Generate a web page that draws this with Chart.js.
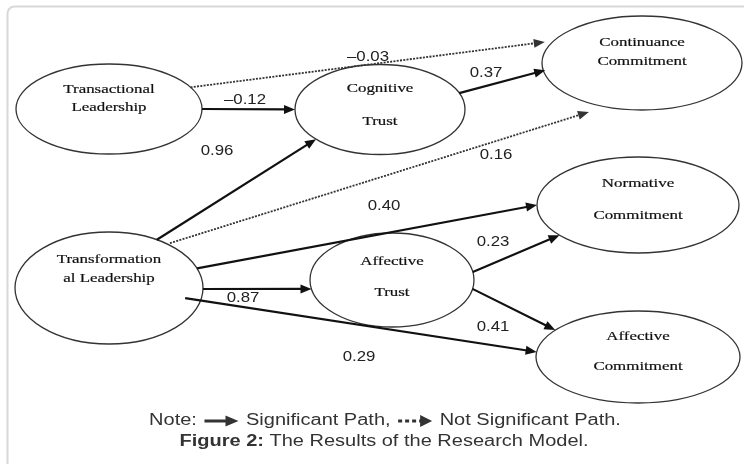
<!DOCTYPE html>
<html>
<head>
<meta charset="utf-8">
<script src="https://cdn.jsdelivr.net/npm/chart.js@4.4.1/dist/chart.umd.min.js"></script>
<style>
html,body{margin:0;padding:0;background:#fff;}
#wrap{width:744px;height:464px;position:relative;}
</style>
</head>
<body>
<div id="wrap"><canvas id="pathChart"></canvas></div>
<script>
// constructs of the research model (two printed lines each)
const nodeNames = [
    ["Transactional", "Leadership"],
    ["Cognitive", "Trust"],
    ["Continuance", "Commitment"],
    ["Transformation", "al Leadership"],
    ["Affective", "Trust"],
    ["Normative", "Commitment"],
    ["Affective", "Commitment"]
];

// structural paths: from -> to, coefficient, significant or not
const pathFrom = [0, 0, 3, 3, 1, 3, 3, 3, 4, 4];
const pathTo   = [2, 1, 1, 2, 2, 5, 4, 6, 5, 6];
const pathCoef = [-0.03, -0.12, 0.96, 0.16, 0.37, 0.40, 0.87, 0.29, 0.23, 0.41];
const pathSig  = [false, true, true, false, true, true, true, true, true, true];

// layout of the figure, in diagram units (x 0..744, y 0..464)
const LAYOUT = {
    nodes: [
        {x: 109, y: 109,   rx: 93,  ry: 45, t: [-19, -1]},
        {x: 380, y: 109.5, rx: 85,  ry: 45, t: [-20.5, 12.5]},
        {x: 642, y: 63,    rx: 100, ry: 47, t: [-20, -1]},
        {x: 109, y: 288,   rx: 94,  ry: 56, t: [-28, -9]},
        {x: 392, y: 280,   rx: 82,  ry: 47, t: [-18, 13]},
        {x: 638, y: 205,   rx: 101, ry: 48, t: [-21, 11]},
        {x: 638, y: 357,   rx: 102, ry: 46, t: [-20, 10]}
    ],
    // start angle, end angle (deg), start radius factor, end radius factor
    anchors: [
        [-28.8, -155.3, 1, 1.07],
        [0, 180, 1, 1],
        [-59.4, 138.8, 1, 1],
        [-51, 117, 1.03, 1.17],
        [-21.3, 171, 1, 0.98],
        [-20.5, 180, 1, 1],
        [1, 169, 1, 1],
        [12.5, -173.7, 0.83, 1],
        [-9.8, 141, 1, 1],
        [10.9, -144.2, 1, 1]
    ],
    labels: [[368, 57], [245, 100], [217, 151], [496, 155], [486, 73],
             [384, 206], [243, 298], [359, 357], [493, 242], [493, 327]],
    headLen: 11,
    headHalf: 4.5
};

const onEllipse = (n, deg, s) => {
    const a = deg * Math.PI / 180;
    return {x: n.x + s * n.rx * Math.cos(a), y: n.y + s * n.ry * Math.sin(a)};
};

const fmtCoef = v => (v < 0 ? '\u2013' : '') + Math.abs(v).toFixed(2);

const datasets = pathCoef.map((c, i) => {
    const an = LAYOUT.anchors[i];
    const p0 = onEllipse(LAYOUT.nodes[pathFrom[i]], an[0], an[2]);
    const tip = onEllipse(LAYOUT.nodes[pathTo[i]], an[1], an[3]);
    const len = Math.hypot(tip.x - p0.x, tip.y - p0.y);
    const k = (len - LAYOUT.headLen + 3) / len;
    const p1 = {x: p0.x + (tip.x - p0.x) * k, y: p0.y + (tip.y - p0.y) * k};
    return {
        label: fmtCoef(c),
        data: [p0, p1],
        tip: tip,
        showLine: true,
        borderColor: pathSig[i] ? '#111' : '#333',
        borderWidth: pathSig[i] ? 2.2 : 1.8,
        borderDash: pathSig[i] ? [] : [2, 1.3],
        pointRadius: 0,
        fill: false
    };
});

function stretchText(ctx, str, x, y, sx, align, heavy) {
    ctx.save();
    ctx.translate(x, y);
    ctx.scale(sx, 1);
    ctx.textAlign = align;
    ctx.fillText(str, 0, 0);
    if (heavy) {
        ctx.lineWidth = heavy;
        ctx.strokeStyle = ctx.fillStyle;
        ctx.strokeText(str, 0, 0);
    }
    ctx.restore();
}

function arrowHead(ctx, fx, fy, tx, ty, len, half) {
    const a = Math.atan2(ty - fy, tx - fx);
    ctx.beginPath();
    ctx.moveTo(tx, ty);
    ctx.lineTo(tx - len * Math.cos(a) + half * Math.sin(a), ty - len * Math.sin(a) - half * Math.cos(a));
    ctx.lineTo(tx - len * Math.cos(a) - half * Math.sin(a), ty - len * Math.sin(a) + half * Math.cos(a));
    ctx.closePath();
    ctx.fill();
}

const diagramPlugin = {
    id: 'diagram',
    beforeDraw: (chart) => {
        const ctx = chart.ctx;
        ctx.save();
        ctx.fillStyle = '#fff';
        ctx.fillRect(0, 0, chart.width, chart.height);
        // page frame
        ctx.strokeStyle = '#d8d8d8';
        ctx.lineWidth = 2;
        ctx.beginPath();
        ctx.roundRect(7.5, 6.5, 800, 500, 7);
        ctx.stroke();
        ctx.restore();
    },
    beforeDatasetsDraw: (chart) => {
        const ctx = chart.ctx, xs = chart.scales.x, ys = chart.scales.y;
        ctx.save();
        ctx.strokeStyle = '#333';
        ctx.lineWidth = 1.3;
        ctx.fillStyle = '#fff';
        LAYOUT.nodes.forEach(n => {
            const px = xs.getPixelForValue(n.x), py = ys.getPixelForValue(n.y);
            const rx = Math.abs(xs.getPixelForValue(n.x + n.rx) - px);
            const ry = Math.abs(ys.getPixelForValue(n.y + n.ry) - py);
            ctx.beginPath();
            ctx.ellipse(px, py, rx, ry, 0, 0, Math.PI * 2);
            ctx.fill();
            ctx.stroke();
        });
        ctx.restore();
    },
    afterDatasetsDraw: (chart) => {
        const ctx = chart.ctx, xs = chart.scales.x, ys = chart.scales.y;
        ctx.save();
        chart.data.datasets.forEach((ds, i) => {
            const pts = chart.getDatasetMeta(i).data;
            const tx = xs.getPixelForValue(ds.tip.x), ty = ys.getPixelForValue(ds.tip.y);
            ctx.fillStyle = ds.borderColor;
            arrowHead(ctx, pts[0].x, pts[0].y, tx, ty, LAYOUT.headLen, LAYOUT.headHalf);
        });

        // construct names
        ctx.fillStyle = '#111';
        ctx.font = '13px "Liberation Serif"';
        ctx.textBaseline = 'middle';
        LAYOUT.nodes.forEach((n, i) => {
            nodeNames[i].forEach((line, j) => {
                stretchText(ctx, line, xs.getPixelForValue(n.x), ys.getPixelForValue(n.y + n.t[j]), 1.3, 'center', 0.2);
            });
        });

        // path coefficients
        ctx.fillStyle = '#222';
        ctx.font = '15px "Liberation Sans"';
        chart.data.datasets.forEach((ds, i) => {
            const l = LAYOUT.labels[i];
            stretchText(ctx, ds.label, xs.getPixelForValue(l[0]), ys.getPixelForValue(l[1]), 1.12, 'center');
        });

        // caption: note line with legend arrows
        const sx = 1.25, arrowW = 38;
        ctx.fillStyle = '#333';
        ctx.strokeStyle = '#333';
        ctx.font = '16px "Liberation Sans"';
        const parts = ['Note: ', ' Significant Path, ', ' Not Significant Path.'];
        const w = parts.map(p => ctx.measureText(p).width * sx);
        let x = 385 - (w[0] + w[1] + w[2] + 2 * arrowW) / 2;
        const y = 421;
        stretchText(ctx, parts[0], x, y, sx, 'left');
        x += w[0];
        ctx.lineWidth = 3;
        ctx.beginPath(); ctx.moveTo(x + 2, y); ctx.lineTo(x + arrowW - 10, y); ctx.stroke();
        arrowHead(ctx, x, y, x + arrowW - 2, y, 13, 5.5);
        x += arrowW;
        stretchText(ctx, parts[1], x, y, sx, 'left');
        x += w[1];
        ctx.lineWidth = 3;
        ctx.setLineDash([4, 3]);
        ctx.beginPath(); ctx.moveTo(x + 2, y); ctx.lineTo(x + arrowW - 12, y); ctx.stroke();
        ctx.setLineDash([]);
        arrowHead(ctx, x, y, x + arrowW - 2, y, 12, 6);
        x += arrowW;
        stretchText(ctx, parts[2], x, y, sx, 'left');

        // caption: figure title
        ctx.font = 'bold 16px "Liberation Sans"';
        const t1 = 'Figure 2:';
        const w1 = ctx.measureText(t1).width * sx;
        ctx.font = '16px "Liberation Sans"';
        const t2 = ' The Results of the Research Model.';
        const w2 = ctx.measureText(t2).width * sx;
        let fx = 384 - (w1 + w2) / 2;
        ctx.font = 'bold 16px "Liberation Sans"';
        stretchText(ctx, t1, fx, 442, sx, 'left');
        ctx.font = '16px "Liberation Sans"';
        stretchText(ctx, t2, fx + w1, 442, sx, 'left');
        ctx.restore();
    }
};

new Chart(document.getElementById('pathChart'), {
    type: 'scatter',
    data: {datasets: datasets},
    options: {
        responsive: true,
        maintainAspectRatio: false,
        animation: false,
        layout: {padding: 0},
        scales: {
            x: {type: 'linear', min: 0, max: 744, display: false},
            y: {type: 'linear', min: 0, max: 464, reverse: true, display: false}
        },
        plugins: {legend: {display: false}, tooltip: {enabled: false}}
    },
    plugins: [diagramPlugin]
});
</script>
</body>
</html>
